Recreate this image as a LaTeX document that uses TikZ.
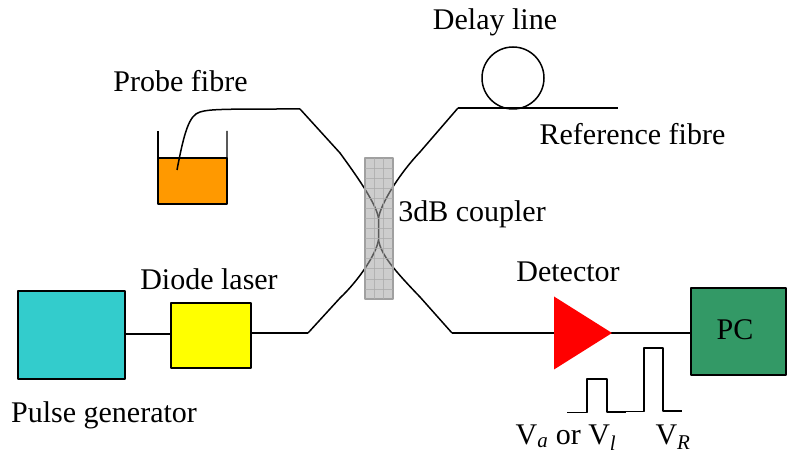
\documentclass[tikz,border=0pt]{standalone}
\usepackage{fontspec}
\setmainfont{Liberation Serif}
\usetikzlibrary{shapes.geometric,calc}
\definecolor{pulsecol}{RGB}{51,204,204}
\definecolor{pccol}{RGB}{51,153,102}
\definecolor{liquidcol}{RGB}{255,153,0}
\definecolor{lasercol}{RGB}{255,255,0}
\definecolor{detcol}{RGB}{255,0,0}
\tikzset{
  label_text/.style={anchor=base,inner sep=0pt,font=\fontsize{30bp}{36bp}\selectfont},
  box_node/.style={draw=black,line width=1.5bp,inner sep=0pt,outer sep=0pt,anchor=south west},
  fibre/.style={black,line width=1.5bp},
  grid_line/.style={draw={rgb,255:red,172;green,172;blue,172},line width=0.7bp}
}
\begin{document}
\begin{tikzpicture}[>=latex,line join=bevel,]
\useasboundingbox (0bp,0bp) rectangle (787bp,453bp);
%%
\coordinate (wall_l) at (158bp,322bp);
  \coordinate (wall_r) at (227bp,322bp);
  \coordinate (probe_tip) at (177bp,283bp);
  \coordinate (probe_knee) at (300bp,344bp);
  \coordinate (ref_knee) at (458bp,345bp);
  \coordinate (ref_end) at (618bp,345bp);
  \coordinate (laser_knee) at (308bp,120bp);
  \coordinate (det_knee) at (452bp,120bp);
  \coordinate (det_tip) at (612bp,120bp);
  \coordinate (waist_top) at (378.5bp,235bp);
  \coordinate (waist_bot) at (378.5bp,213bp);
  \coordinate (gen_wire) at (125bp,119bp);
%
  \draw [fibre] (det_knee) -- (det_tip);
  \node (pulse_gen) at (18bp,74bp) [box_node,fill=pulsecol,minimum width=107bp,minimum height=88bp] {};
  \node (laser) at (171bp,85bp) [box_node,fill=lasercol,minimum width=80bp,minimum height=65bp] {};
  \node (pc) at (691bp,78bp) [box_node,fill=pccol,minimum width=95bp,minimum height=87bp] {};
  \node (liquid) at (158bp,249bp) [box_node,fill=liquidcol,minimum width=69bp,minimum height=46bp] {};
  \node (detector) at (det_tip) [isosceles triangle,isosceles triangle stretches,fill=detcol,inner sep=0pt,outer sep=0pt,minimum width=73bp,minimum height=58bp,anchor=apex] {};
  \node (delay) at (513bp,375bp) [circle,draw=black,line width=1.5bp,inner sep=0pt,minimum size=62bp] {};
%
  \draw [line width=1.2bp] (wall_l) -- (liquid.north west);
  \draw [line width=1.2bp] (wall_r) -- (liquid.north east);
  \draw [fibre] (probe_tip) ..controls (184bp,320bp) and (189bp,338bp) .. (200bp,341bp) ..controls (210bp,344bp) and (225bp,344bp) .. (probe_knee);
  \draw [fibre] (probe_knee) -- (340bp,300bp) ..controls (356bp,278bp) and (376bp,250bp) .. (waist_top) -- (waist_bot) ..controls (381bp,198bp) and (395bp,182bp) .. (420bp,156bp) -- (det_knee);
  \draw [fibre] (ref_knee) -- (420bp,301bp) ..controls (400bp,280bp) and (381bp,250bp) .. (waist_top);
  \draw [fibre] (waist_bot) ..controls (376bp,198bp) and (358bp,172bp) .. (340bp,155bp) -- (laser_knee);
  \draw [fibre] (ref_knee) -- (ref_end);
  \draw [fibre] (gen_wire) -- (laser.west |- gen_wire);
  \draw [fibre] (laser.east |- laser_knee) -- (laser_knee);
  \draw [fibre] (detector.apex) -- (pc.west |- detector.apex);
%
  \node (coupler) at (365bp,154bp) [anchor=south west,draw={rgb,255:red,160;green,160;blue,160},line width=1.2bp,fill={rgb,255:red,164;green,164;blue,164},fill opacity=0.55,inner sep=0pt,outer sep=0pt,minimum width=28bp,minimum height=141bp] {};
  \foreach \i in {1,2} {
    \draw [grid_line,opacity=0.8] ($(coupler.south west)!\i/3!(coupler.south east)$) -- ($(coupler.north west)!\i/3!(coupler.north east)$);
  }
  \foreach \i in {1,...,13} {
    \draw [grid_line,opacity=0.8] ($(coupler.south west)!\i/14!(coupler.north west)$) -- ($(coupler.south east)!\i/14!(coupler.north east)$);
  }
%
  \coordinate (pa0) at (567bp,40.5bp);
  \coordinate (pa1) at (626bp,41bp);
  \coordinate (pr0) at (624bp,41.5bp);
  \coordinate (pr1) at (682bp,42bp);
  \draw [line width=1.2bp] (pa0) -| (587bp,74bp) -| (607bp,41bp) -- (pa1);
  \draw [line width=1.2bp] (pr0) -| (644bp,105bp) -| (663bp,42bp) -- (pr1);
%
  \node (lab_delay) at (495bp,423bp) [label_text] {Delay line};
  \node (lab_probe) at (180.5bp,361bp) [label_text] {Probe fibre};
  \node (lab_ref) at (632.5bp,308bp) [label_text] {Reference fibre};
  \node (lab_coupler) at (472bp,231bp) [label_text] {3dB coupler};
  \node (lab_laser) at (209bp,163bp) [label_text] {Diode laser};
  \node (lab_det) at (568bp,171bp) [label_text] {Detector};
  \node (lab_pulse) at (104bp,31bp) [label_text] {Pulse generator};
  \node (lab_pc) at (735bp,113bp) [label_text] {PC};
  \node (lab_va) at (566bp,9bp) [label_text] {V\textsubscript{\textit{a}} or V\textsubscript{\textit{l}}};
  \node (lab_vr) at (673bp,9bp) [label_text] {V\textsubscript{\textit{R}}};
%
\end{tikzpicture}
\end{document}
